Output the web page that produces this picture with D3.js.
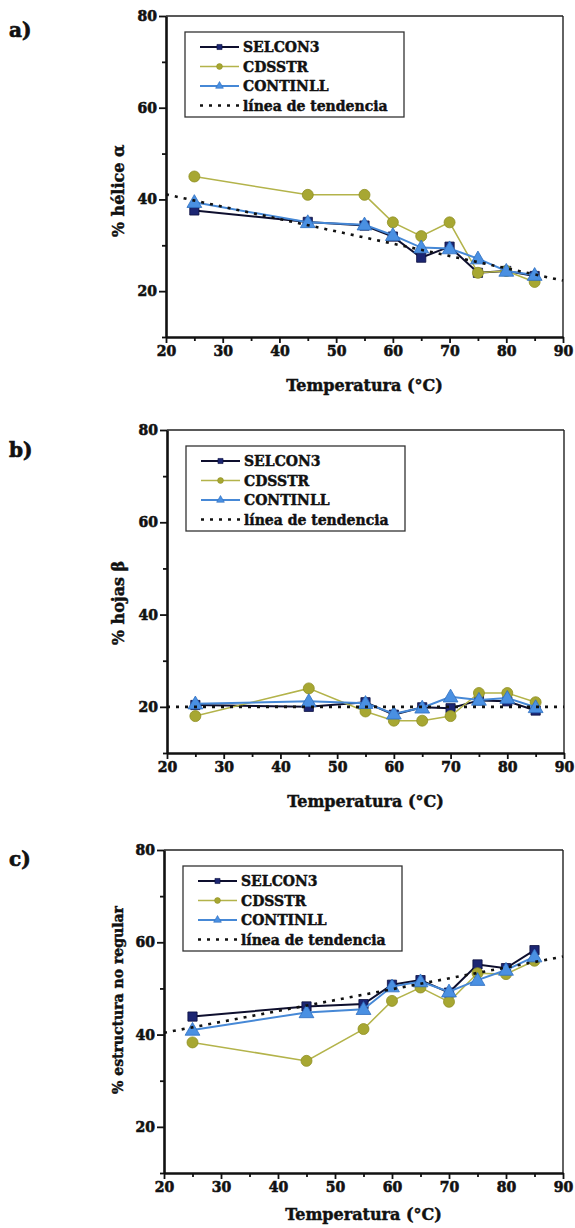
<!DOCTYPE html>
<html>
<head>
<meta charset="utf-8">
<script src="https://cdn.jsdelivr.net/npm/d3@7/dist/d3.min.js"></script>
<style>
  html, body { margin: 0; padding: 0; background: #fff; }
  svg { display: block; }
  text { font-family: "DejaVu Serif", "Liberation Serif", serif; font-weight: bold; fill: #111;
         stroke: #111; stroke-width: 0.45px; }
</style>
</head>
<body>
<svg id="chart" width="575" height="1228"></svg>
<script>
// Temperatures at which each secondary-structure estimate was taken (°C)
const temps = [25, 45, 55, 60, 65, 70, 75, 80, 85];

// a) % alpha helix
const helixSelcon = [37.6, 35.1, 34.3, 31.9, 27.3, 29.7, 24.0, 24.4, 23.3];
const helixCdsstr = [45.0, 41.0, 41.0, 35.0, 32.0, 35.0, 24.0, 24.4, 22.0];
const helixContin = [39.4, 35.0, 34.5, 32.2, 29.5, 29.3, 27.1, 24.4, 23.5];

// b) % beta sheet
const sheetSelcon = [20.4, 20.0, 21.0, 18.3, 19.9, 19.7, 21.4, 21.2, 19.2];
const sheetCdsstr = [18.0, 24.0, 19.0, 17.0, 17.0, 18.0, 23.0, 23.0, 21.0];
const sheetContin = [20.7, 21.2, 20.8, 18.5, 19.8, 22.2, 21.5, 21.9, 19.9];

// c) % irregular structure
const irregSelcon = [43.9, 46.1, 46.6, 50.8, 51.8, 49.1, 55.2, 54.4, 58.3];
const irregCdsstr = [38.3, 34.3, 41.2, 47.3, 50.2, 47.1, 53.3, 53.1, 56.0];
const irregContin = [41.0, 44.8, 45.5, 50.4, 51.5, 49.3, 51.8, 54.0, 56.9];

// Linear trend lines, given by their values at the ends of the temperature axis
const trendTemps = [20, 90];
const helixTrend = [41.1, 22.3];
const sheetTrend = [20.0, 20.0];
const irregTrend = [40.4, 56.9];

// Axis ticks
const xTicks = [20, 30, 40, 50, 60, 70, 80, 90];
const xMinorTicks = [25, 35, 45, 55, 65, 75, 85];
const yTicks = [20, 40, 60, 80];
const yMinorTicks = [10, 30, 50, 70];

const seriesNames = ["SELCON3", "CDSSTR", "CONTINLL"];
const trendName = "línea de tendencia";
const xTitle = "Temperatura (°C)";

const styles = {
  SELCON3:  { line: "#0e0f2e", fill: "#1c2673", stroke: "#0c1040", width: 2.0, shape: "square" },
  CDSSTR:   { line: "#b3b34a", fill: "#a7a732", stroke: "#8f8f22", width: 1.5, shape: "circle" },
  CONTINLL: { line: "#4688d6", fill: "#4a90e2", stroke: "#2f6fc0", width: 2.0, shape: "triangle" }
};

const panels = [
  { tag: "a)", yTitle: "% hélice α", data: [helixSelcon, helixCdsstr, helixContin], trend: helixTrend,
    box: { left: 166, right: 563, top: 16, bottom: 337 }, tagY: 30, yTitleY: 191, yTitleSize: 16, xTitleGap: 54 },
  { tag: "b)", yTitle: "% hojas β", data: [sheetSelcon, sheetCdsstr, sheetContin], trend: sheetTrend,
    box: { left: 167, right: 564, top: 430, bottom: 753 }, tagY: 450, yTitleY: 603, yTitleSize: 16, xTitleGap: 54 },
  { tag: "c)", yTitle: "% estructura no regular", data: [irregSelcon, irregCdsstr, irregContin], trend: irregTrend,
    box: { left: 164, right: 563, top: 850, bottom: 1173 }, tagY: 859, yTitleY: 1000, yTitleSize: 14, xTitleGap: 47 }
];

const svg = d3.select("#chart");

function symbolFor(shape, size) {
  const t = shape === "square" ? d3.symbolSquare : shape === "circle" ? d3.symbolCircle : d3.symbolTriangle;
  return d3.symbol().type(t).size(size)();
}

panels.forEach(p => {
  const b = p.box;
  const x = d3.scaleLinear().domain([20, 90]).range([b.left, b.right]);
  const y = d3.scaleLinear().domain([10, 80]).range([b.bottom, b.top]);
  const g = svg.append("g");

  // Panel tag
  g.append("text").attr("x", 9).attr("y", p.tagY).attr("dy", "0.35em")
    .style("font-size", "20px").style("stroke-width", "0.7px").text(p.tag);

  // Thin frame on the top and right
  g.append("line").attr("x1", b.left).attr("x2", b.right).attr("y1", b.top).attr("y2", b.top)
    .attr("stroke", "#222").attr("stroke-width", 1.4);
  g.append("line").attr("x1", b.right).attr("x2", b.right).attr("y1", b.top).attr("y2", b.bottom)
    .attr("stroke", "#222").attr("stroke-width", 1.4);

  // Minor ticks
  const xMinor = g.append("g").attr("transform", `translate(0,${b.bottom})`)
    .call(d3.axisBottom(x).tickValues(xMinorTicks).tickSize(4).tickFormat(""));
  const yMinor = g.append("g").attr("transform", `translate(${b.left},0)`)
    .call(d3.axisLeft(y).tickValues(yMinorTicks).tickSize(4).tickFormat(""));
  [xMinor, yMinor].forEach(a => {
    a.select(".domain").remove();
    a.selectAll("line").attr("stroke", "#111").attr("stroke-width", 1.8);
  });

  // Major axes
  const xAxis = g.append("g").attr("transform", `translate(0,${b.bottom})`)
    .call(d3.axisBottom(x).tickValues(xTicks).tickSize(6).tickPadding(3).tickSizeOuter(0));
  const yAxis = g.append("g").attr("transform", `translate(${b.left},0)`)
    .call(d3.axisLeft(y).tickValues(yTicks).tickSize(7).tickPadding(2).tickSizeOuter(0));
  [xAxis, yAxis].forEach(a => {
    a.select(".domain").attr("stroke", "#111").attr("stroke-width", 2.6);
    a.selectAll("line").attr("stroke", "#111").attr("stroke-width", 1.8);
    a.selectAll("text").style("font-family", "'DejaVu Serif', serif")
      .style("font-weight", "bold").style("font-size", "14px")
      .style("stroke", "#111").style("stroke-width", "0.6px").attr("fill", "#111");
  });

  // Axis titles
  g.append("text").attr("x", (b.left + b.right) / 2).attr("y", b.bottom + p.xTitleGap)
    .attr("text-anchor", "middle").style("font-size", "16px").text(xTitle);
  g.append("text").attr("transform", `translate(118,${p.yTitleY}) rotate(-90)`)
    .attr("text-anchor", "middle").attr("dy", "0.35em")
    .style("font-size", p.yTitleSize + "px").text(p.yTitle);

  // Series lines and markers
  const line = d3.line().x(d => x(d[0])).y(d => y(d[1]));
  p.data.forEach((vals, i) => {
    const st = styles[seriesNames[i]];
    const pts = temps.map((t, k) => [t, vals[k]]);
    g.append("path").datum(pts).attr("d", line)
      .attr("fill", "none").attr("stroke", st.line).attr("stroke-width", st.width);
    const size = st.shape === "triangle" ? 95 : st.shape === "square" ? 85 : 95;
    g.selectAll(null).data(pts).join("path")
      .attr("d", symbolFor(st.shape, size))
      .attr("transform", d => `translate(${x(d[0])},${y(d[1]) + (st.shape === "triangle" ? 1 : 0)})`)
      .attr("fill", st.fill).attr("stroke", st.stroke).attr("stroke-width", 0.8);
  });

  // Trend line
  const trendPts = trendTemps.map((t, k) => [t, p.trend[k]]);
  g.append("path").datum(trendPts).attr("d", line)
    .attr("fill", "none").attr("stroke", "#111").attr("stroke-width", 2.6)
    .attr("stroke-dasharray", "3,6");

  // Legend
  const lx = b.left + 19, ly = b.top + 16;
  const lg = g.append("g").attr("transform", `translate(${lx},${ly})`);
  lg.append("rect").attr("x", 0).attr("y", 0).attr("width", 219).attr("height", 85)
    .attr("fill", "#fff").attr("stroke", "#333").attr("stroke-width", 1.3);
  const rows = seriesNames.concat([trendName]);
  rows.forEach((name, i) => {
    const ry = 15 + i * 19.5;
    if (i < 3) {
      const st = styles[name];
      lg.append("line").attr("x1", 15).attr("x2", 54).attr("y1", ry).attr("y2", ry)
        .attr("stroke", st.line).attr("stroke-width", st.width);
      lg.append("path").attr("d", symbolFor(st.shape, 26))
        .attr("transform", `translate(34.5,${ry})`)
        .attr("fill", st.fill).attr("stroke", st.stroke).attr("stroke-width", 0.6);
    } else {
      lg.append("line").attr("x1", 15).attr("x2", 54).attr("y1", ry).attr("y2", ry)
        .attr("stroke", "#111").attr("stroke-width", 2.6).attr("stroke-dasharray", "3,6");
    }
    lg.append("text").attr("x", 58).attr("y", ry).attr("dy", "0.36em")
      .style("font-size", "14px").text(name);
  });
});
</script>
</body>
</html>
